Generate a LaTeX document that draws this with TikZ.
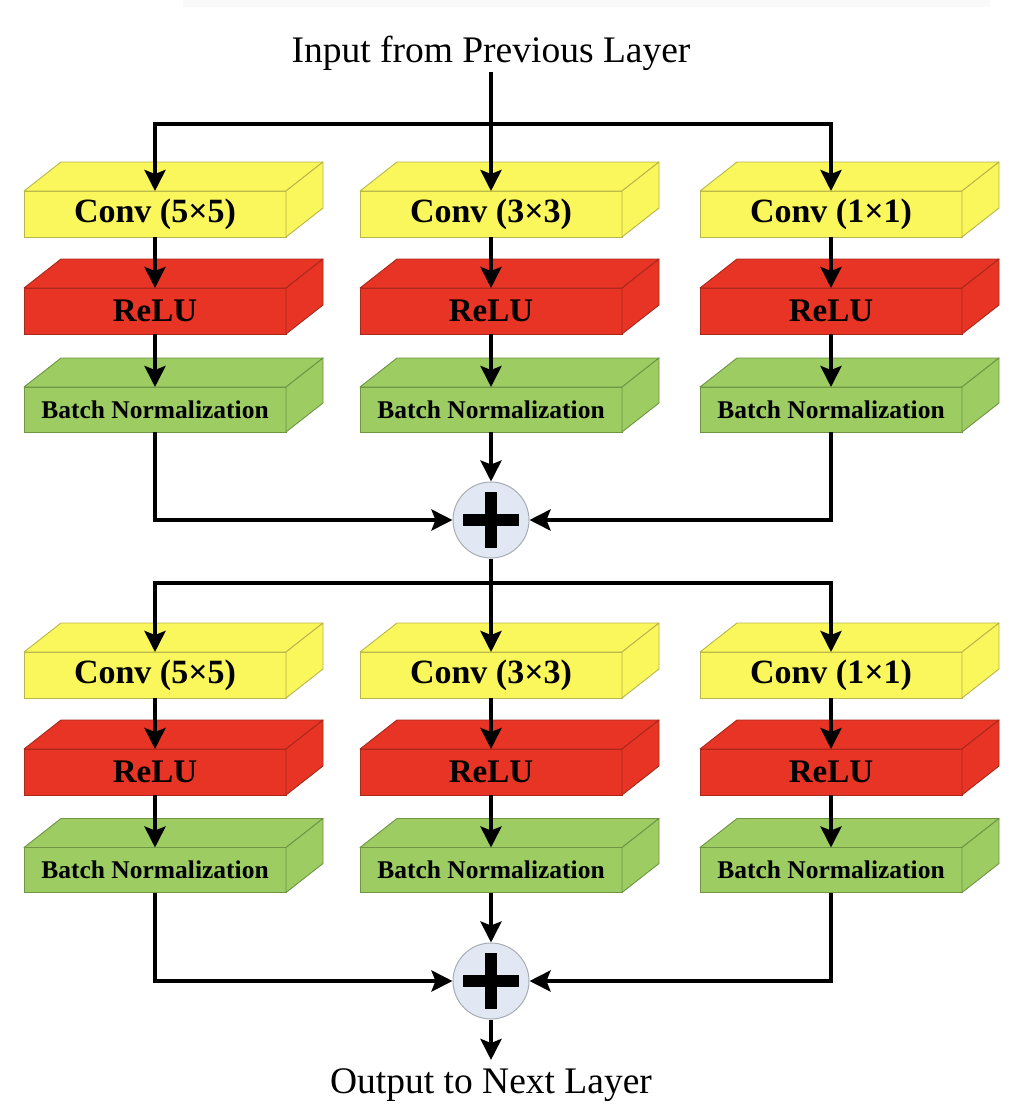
\documentclass[tikz,border=0pt]{standalone}
\usepackage{fontspec}
\setmainfont{Liberation Serif}
\usetikzlibrary{arrows.meta}
\definecolor{yelF}{HTML}{FAF75C}
\definecolor{yelE}{HTML}{B8B54A}
\definecolor{redF}{HTML}{E83424}
\definecolor{redE}{HTML}{A8291C}
\definecolor{grnF}{HTML}{9CCC62}
\definecolor{grnE}{HTML}{6E9444}
\definecolor{sumF}{HTML}{E2E8F3}
\definecolor{sumE}{HTML}{A8ACB4}
\newcommand{\mkblock}[7]{%
  \node[blockf, fill=#5F, draw=#5E, minimum height=#4pt, font=#6] (#1) at (#2,#3) {#7};
  \filldraw[fill=#5F, draw=#5E, line width=0.9pt, line join=round]
    (#1.north west) -- ++(37,-29) -- ++(262,0) -- (#1.north east) -- cycle;
  \filldraw[fill=#5F, draw=#5E, line width=0.9pt, line join=round]
    (#1.north east) -- ++(37,-29) -- ++(0,#4) -- (#1.south east) -- cycle;
}
\begin{document}
\begin{tikzpicture}[x=1pt,y=-1pt,
  blockf/.style={line width=0.9pt, minimum width=262pt, inner sep=0pt, outer sep=0pt},
  wire/.style={line width=4pt},
  arr/.style={line width=4pt, -{Stealth[length=21pt,width=21pt,inset=4pt]}},
  sumnode/.style={circle, minimum size=76pt, inner sep=0pt, fill=sumF, draw=sumE, line width=1pt},
  lbl/.style={font=\fontsize{37.5}{40}\selectfont}
]
\useasboundingbox (0,0) rectangle (1024,1114);
\fill[black!2.5] (183,0) rectangle (990,7);

% labels
\node[lbl, anchor=base, inner sep=2pt] (in) at (491,62) {Input from Previous Layer};
\node[lbl, anchor=base, inner sep=8pt] (out) at (491,1093) {Output to Next Layer};

\def\fc{\bfseries\fontsize{34}{36}\selectfont}
\def\fr{\bfseries\fontsize{33}{36}\selectfont}
\def\fb{\bfseries\fontsize{25.5}{28}\selectfont}

% upper blocks
\mkblock{convA1}{155}{214}{46}{yel}{\fc}{Conv (5×5)}
\mkblock{convA2}{491}{214}{46}{yel}{\fc}{Conv (3×3)}
\mkblock{convA3}{831}{214}{46}{yel}{\fc}{Conv (1×1)}
\mkblock{reluA1}{155}{311}{46}{red}{\fr}{ReLU}
\mkblock{reluA2}{491}{311}{46}{red}{\fr}{ReLU}
\mkblock{reluA3}{831}{311}{46}{red}{\fr}{ReLU}
\mkblock{bnA1}{155}{409.5}{45}{grn}{\fb}{Batch Normalization}
\mkblock{bnA2}{491}{409.5}{45}{grn}{\fb}{Batch Normalization}
\mkblock{bnA3}{831}{409.5}{45}{grn}{\fb}{Batch Normalization}

% lower blocks
\mkblock{convB1}{155}{675}{46}{yel}{\fc}{Conv (5×5)}
\mkblock{convB2}{491}{675}{46}{yel}{\fc}{Conv (3×3)}
\mkblock{convB3}{831}{675}{46}{yel}{\fc}{Conv (1×1)}
\mkblock{reluB1}{155}{772}{46}{red}{\fr}{ReLU}
\mkblock{reluB2}{491}{772}{46}{red}{\fr}{ReLU}
\mkblock{reluB3}{831}{772}{46}{red}{\fr}{ReLU}
\mkblock{bnB1}{155}{870}{45}{grn}{\fb}{Batch Normalization}
\mkblock{bnB2}{491}{870}{45}{grn}{\fb}{Batch Normalization}
\mkblock{bnB3}{831}{870}{45}{grn}{\fb}{Batch Normalization}

% sum nodes
\node[sumnode] (sumA) at (491,520) {};
\node[sumnode] (sumB) at (491,981) {};
\foreach \s in {sumA,sumB}{
  \draw[line width=12pt] (\s.center) ++(-28,0) -- ++(56,0);
  \draw[line width=12pt] (\s.center) ++(0,-28) -- ++(0,56);
}

% split points
\coordinate (splitA) at (491,124);
\coordinate (splitB) at (491,583);

% upper connectors
\draw[wire] (in.south) -- (splitA);
\draw[arr] (splitA) -- (convA2.north);
\draw[arr] (splitA) -| (convA1.north);
\draw[arr] (splitA) -| (convA3.north);
\foreach \i in {1,2,3}{
  \draw[arr] (convA\i.south) -- (reluA\i.north);
  \draw[arr] (reluA\i.south) -- (bnA\i.north);
}
\draw[arr] (bnA2.south) -- (sumA.north);
\draw[arr] (bnA1.south) |- (sumA.west);
\draw[arr] (bnA3.south) |- (sumA.east);

% lower connectors
\draw[wire] (sumA.south) -- (splitB);
\draw[arr] (splitB) -- (convB2.north);
\draw[arr] (splitB) -| (convB1.north);
\draw[arr] (splitB) -| (convB3.north);
\foreach \i in {1,2,3}{
  \draw[arr] (convB\i.south) -- (reluB\i.north);
  \draw[arr] (reluB\i.south) -- (bnB\i.north);
}
\draw[arr] (bnB2.south) -- (sumB.north);
\draw[arr] (bnB1.south) |- (sumB.west);
\draw[arr] (bnB3.south) |- (sumB.east);
\draw[arr] (sumB.south) -- (out.north);
\end{tikzpicture}
\end{document}
